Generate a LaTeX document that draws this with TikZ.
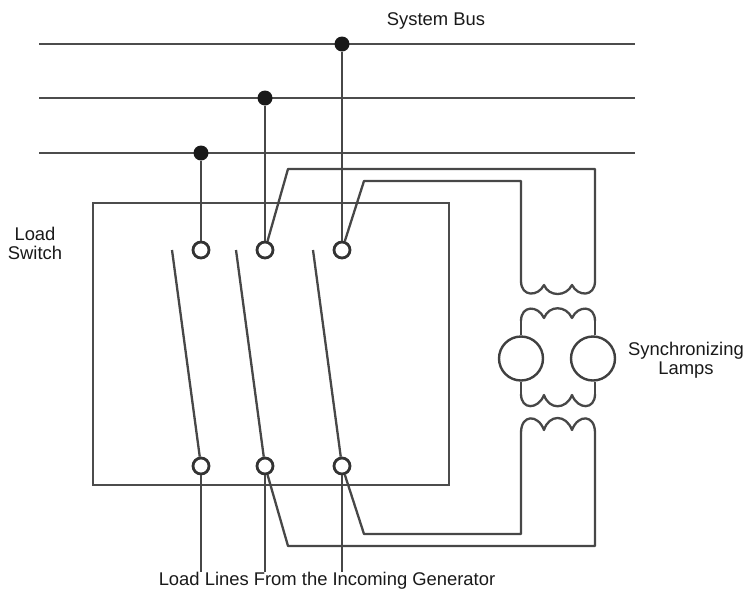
\documentclass[tikz,border=0pt]{standalone}
\usepackage{fontspec}
\setmainfont{Liberation Sans}
\begin{document}
\begin{tikzpicture}[
    x=1pt, y=-1pt,
    wire/.style={draw=black!72, line width=2.3pt, line join=round},
    busline/.style={draw=black!70, line width=2.6pt},
    term/.style={circle, draw=black!80, fill=white, line width=2.8pt, minimum size=16pt, inner sep=0pt},
    tap/.style={circle, fill=black!90, minimum size=15pt, inner sep=0pt},
    lamp/.style={circle, draw=black!75, line width=2.4pt, minimum size=44pt, inner sep=0pt},
    lbl/.style={font=\fontsize{18.4}{19}\selectfont, align=center, text=black!90, inner sep=0pt}
  ]
    \useasboundingbox (0,0) rectangle (745,590);

    % bus
    \foreach \busname/\ybus in {busA/44, busB/98, busC/153} {
      \coordinate (\busname l) at (39,\ybus);
      \coordinate (\busname r) at (635,\ybus);
      \draw[busline] (\busname l) -- (\busname r);
    }
    \node[tap] (tapA) at (342,44) {};
    \node[tap] (tapB) at (265,98) {};
    \node[tap] (tapC) at (201,153) {};

    % load switch
    \node[draw=black!70, line width=2.6pt, minimum width=356pt, minimum height=282pt, inner sep=0pt] (switch) at (271,344) {};

    % coil ends
    \foreach \coilno/\yend/\ycusp/\yctl in {1/281/285/297, 2/321/318/305, 3/394/395/410, 4/433/430/414} {
      \coordinate (coil\coilno l) at (521,\yend);
      \coordinate (coil\coilno r) at (595,\yend);
      \draw[wire] (coil\coilno l) .. controls (521,\yctl) and (538,\yctl) .. (544,\ycusp)
        .. controls (549,\yctl) and (566,\yctl) .. (572,\ycusp)
        .. controls (578,\yctl) and (595,\yctl) .. (coil\coilno r);
    }

    \node[lamp, fill=white] (lampL) at (521,358.5) {};
    \node[lamp, fill=white] (lampR) at (593,358.5) {};
    \draw[wire] (coil2l) -- (lampL.north);
    \draw[wire] (coil2r) -- (coil2r |- lampR.north);
    \draw[wire] (lampL.south) -- (coil3l);
    \draw[wire] (coil3r |- lampR.south) -- (coil3r);

    % terminals
    \node[term] (topA) at (201,250) {};
    \node[term] (topB) at (265,250) {};
    \node[term] (topC) at (342,250) {};
    \node[term] (botA) at (201,466) {};
    \node[term] (botB) at (265,466) {};
    \node[term] (botC) at (342,466) {};

    \coordinate (bladeA) at (172,250);
    \coordinate (bladeB) at (236,250);
    \coordinate (bladeC) at (313,250);
    \draw[wire] (bladeA) -- (botA);
    \draw[wire] (bladeB) -- (botB);
    \draw[wire] (bladeC) -- (botC);

    \draw[wire] (tapA) -- (topC);
    \draw[wire] (tapB) -- (topB);
    \draw[wire] (tapC) -- (topA);

    \draw[wire] (topB) -- (288,169) -- (595,169) -- (coil1r);
    \draw[wire] (topC) -- (364,181) -- (521,181) -- (coil1l);
    \draw[wire] (botB) -- (288,546) -- (595,546) -- (coil4r);
    \draw[wire] (botC) -- (364,534) -- (521,534) -- (coil4l);

    % load lines
    \coordinate (lineA) at (201,572);
    \coordinate (lineB) at (265,572);
    \coordinate (lineC) at (342,572);
    \draw[wire] (botA) -- (lineA);
    \draw[wire] (botB) -- (lineB);
    \draw[wire] (botC) -- (lineC);

    \node[lbl] (busLabel) at (436,21) {System Bus};
    \node[lbl] (switchLabel) at (35,243) {Load\\Switch};
    \node[lbl] (lampLabel) at (686,360) {Synchronizing\\Lamps};
    \node[lbl] (linesLabel) at (327,581) {Load Lines From the Incoming Generator};
  \end{tikzpicture}
\end{document}
